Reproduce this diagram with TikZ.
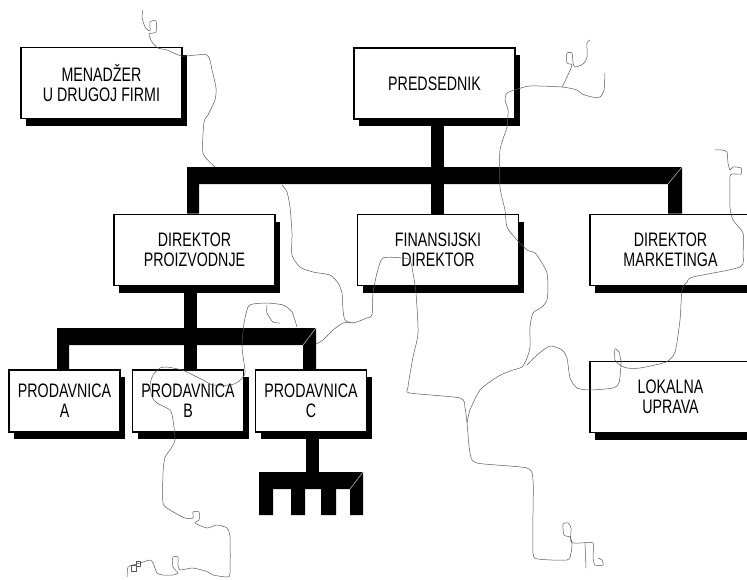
\documentclass[tikz,border=0pt]{standalone}
\usepackage{fontspec}
\setmainfont{Liberation Sans}[FakeStretch=0.73]
\usetikzlibrary{backgrounds}
\usetikzlibrary{shadows}
\tikzstyle{box} = [draw, line width=1.8pt, fill=white, minimum width=161pt, minimum height=71pt, align=center, font=\fontsize{19.5}{20}\selectfont, drop shadow={shadow xshift=5pt, shadow yshift=-7pt, fill=black, opacity=1}]
\tikzstyle{shop} = [box, minimum width=111pt, minimum height=62pt]
\tikzstyle{bar} = [fill=black]
\tikzstyle{bevel} = [draw=gray!60, line width=0.6pt]
\tikzstyle{hair} = [draw=black!65, line width=0.5pt, line join=round]

\begin{document}
\begin{tikzpicture}[x=1pt, y=-1pt]

		\useasboundingbox (0,0) rectangle (747,579);
		\clip (0,0) rectangle (747,579);

		\node [box] (men) at (101.5,83) {MENADŽER\\U DRUGOJ FIRMI};
		\node [box] (pres) at (434.5,83.5) {PREDSEDNIK};

		\node [box] (dp) at (194.5,250) {DIREKTOR\\PROIZVODNJE};
		\node [box] (fin) at (438,250) {FINANSIJSKI\\DIREKTOR};
		\node [box] (dm) at (670.5,250) {DIREKTOR\\MARKETINGA};
		\node [box] (lu) at (670.5,397) {LOKALNA\\UPRAVA};

		\node [shop] (pa) at (64.5,401) {PRODAVNICA\\A};
		\node [shop] (pb) at (188,401) {PRODAVNICA\\B};
		\node [shop] (pc) at (311,401) {PRODAVNICA\\C};

		\begin{scope}[on background layer]
			\fill [bar] (pres.south -| 431,0) rectangle (fin.north -| 444,0);
			\fill [bar] (dp.north -| 187,0) -- (187,167) -- (682,167) -- (dm.north -| 682,0) -- (dm.north -| 668,0) -- (668,184) -- (199,184) -- (dp.north -| 199,0) -- cycle;

			\fill [bar] (dp.south -| 184,0) rectangle (pb.north -| 197,0);
			\fill [bar] (pa.north -| 57,0) -- (57,328) -- (316,328) -- (pc.north -| 316,0) -- (pc.north -| 303,0) -- (303,345) -- (69,345) -- (pa.north -| 69,0) -- cycle;

			\fill [bar] (pc.south -| 306,0) rectangle (319,472);
			\fill [bar] (259,515) -- (259,472) -- (363,472) -- (363,515) -- (350,515) -- (350,489) -- (336,489) -- (336,515) -- (321,515) -- (321,489) -- (305,489) -- (305,515) -- (291,515) -- (291,489) -- (273,489) -- (273,515) -- cycle;
		\end{scope}
		\draw [bevel] (682,167) -- (668,184);
		\draw [bevel] (316,328) -- (303,345);
		\draw [bevel] (363,472) -- (350,489);

		\draw [hair] plot [smooth, tension=0.4] coordinates {(143,10) (142,17) (145,27) (150,31) (150,22) (156,21) (156,32) (149,34) (152,42) (158,48) (167,50) (182,56) (207,55) (212,70) (216,88) (215,100) (208,115) (204,122) (203,153) (215,167)};
		\draw [hair] plot [smooth, tension=0.4] coordinates {(282,185) (287,192) (290,207) (292,233) (292,255) (300,267) (313,272) (330,275) (338,283) (342,293) (343,310) (345,320) (353,323) (367,318) (372,315) (373,293) (377,273) (383,258) (402,258) (410,260) (413,273) (416,293) (418,333) (413,357) (408,387) (410,393) (460,398) (465,408) (467,423) (470,453) (477,463) (527,468) (533,480) (533,513) (533,553) (538,559) (567,560) (571,553) (572,543) (570,537) (564,535) (563,524) (568,523) (571,528) (571,542) (580,543) (593,543) (593,557) (595,565) (603,565) (602,560) (598,558)};
		\draw [hair] (585,543) -- (586,568);
		\draw [hair] plot [smooth, tension=0.4] coordinates {(353,322) (343,323) (333,330) (323,340) (316,344)};
		\draw [hair] plot [smooth, tension=0.4] coordinates {(590,40) (587,43) (587,57) (583,64) (575,67) (573,63) (572,53) (567,53) (567,63) (572,65) (567,77) (562,87)};
		\draw [hair] plot [smooth, tension=0.4] coordinates {(605,73) (604,90) (600,97) (592,97) (582,94) (577,90) (562,87) (530,86) (515,90) (507,93) (505,100) (508,110) (507,127) (500,150) (500,187) (505,210) (507,227) (517,240) (527,250) (535,253) (542,263) (547,273) (548,287) (547,300) (542,307) (533,313) (530,327) (530,347) (527,358) (522,367) (510,371) (497,377) (480,390) (470,410) (467,423)};
		\draw [hair] plot [smooth, tension=0.4] coordinates {(527,365) (537,355) (550,346) (562,350) (567,358) (570,378) (577,388) (590,390) (613,388) (619,383) (621,363) (619,352) (615,349) (615,360) (620,365) (627,368) (640,368) (666,362) (675,352) (680,320) (682,290) (687,282) (693,277) (740,267) (743,253) (743,233) (733,220) (730,207) (730,177) (733,174) (741,174) (741,168) (733,167) (730,170) (728,163) (727,152) (722,150) (715,150)};
		\draw [hair] plot [smooth, tension=0.4] coordinates {(297,327) (292,312) (283,305) (267,303) (253,304) (248,307) (244,323) (242,347) (245,373) (238,382) (230,385) (213,385) (203,380) (193,375) (182,370) (167,367) (160,368) (153,375) (150,385) (152,397) (157,403) (170,410) (173,420) (175,440) (170,450) (165,457) (163,473) (163,503) (170,510) (185,518) (193,518) (193,512) (199,512) (199,520) (195,523) (207,528) (217,525) (227,528) (230,537) (230,573) (227,577) (213,575) (208,572) (202,570) (192,568) (180,570) (178,565) (178,557) (173,557) (173,567) (178,573) (173,575) (163,575) (157,573) (153,563) (150,560) (140,563) (133,565) (128,567) (127,577)};
		\draw [hair] plot [smooth, tension=0.4] coordinates {(267,305) (267,313) (273,322) (280,323)};
		\draw [hair] (131,565) rectangle (136,571);
		\draw [hair] (136,561) rectangle (140,566);

	\end{tikzpicture}
\end{document}
